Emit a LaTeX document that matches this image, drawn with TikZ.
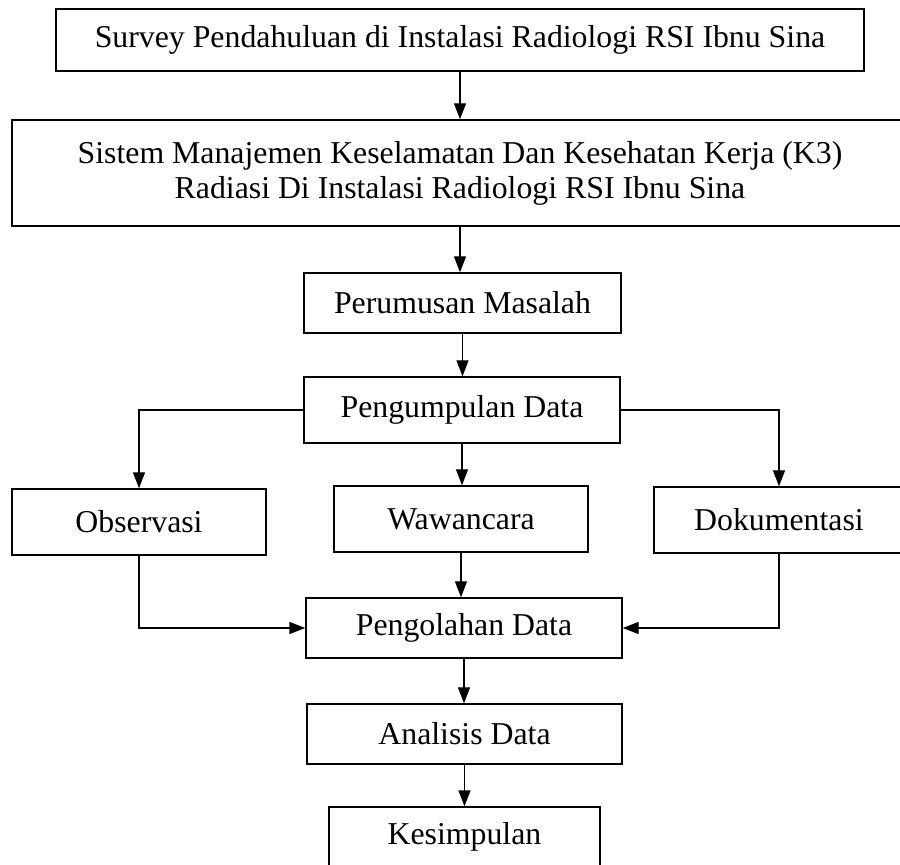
\documentclass[tikz,border=0pt]{standalone}
\usepackage{fontspec}
\setmainfont{Liberation Serif}
\usetikzlibrary{arrows.meta}

\begin{document}
\begin{tikzpicture}[
  x=0.5pt, y=-0.5pt,
  font=\fontsize{15.9}{17.5}\selectfont,
  line width=0.7pt,
  stepbox/.style={
    draw=black,
    fill=white,
    align=center,
    inner sep=0pt,
    minimum height=30pt,
  },
  flow/.style={-{Triangle[length=8pt,width=6pt]}},
]
  \useasboundingbox (0,0) rectangle (900,865);

  % === main column ===
  \node[stepbox, minimum width=404pt, minimum height=31pt] (survey) at (460, 40)
    {Survey Pendahuluan di Instalasi Radiologi RSI Ibnu Sina};
  \node[stepbox, minimum width=448pt, minimum height=53pt] (sistem) at (460, 173)
    {Sistem Manajemen Keselamatan Dan Kesehatan Kerja (K3)\\ Radiasi Di Instalasi Radiologi RSI Ibnu Sina};
  \node[stepbox, minimum width=158.5pt] (rumusan) at (462.5, 303) {Perumusan Masalah};
  \node[stepbox, minimum width=158pt, minimum height=33pt] (kumpul) at (462, 410) {Pengumpulan Data};

  % === three collection methods ===
  \node[stepbox, minimum width=127pt, minimum height=33pt] (obs) at (139, 522) {Observasi};
  \node[stepbox, minimum width=127pt, minimum height=33pt] (wawan) at (461, 519) {Wawancara};
  \node[stepbox, minimum width=125pt, minimum height=33pt] (dok) at (779, 520) {Dokumentasi};

  % === processing and result ===
  \node[stepbox, minimum width=158pt] (olah) at (464, 628) {Pengolahan Data};
  \node[stepbox, minimum width=157.5pt] (analisis) at (464.5, 734) {Analisis Data};
  \node[stepbox, minimum width=135.5pt] (simpul) at (464.5, 837) {Kesimpulan};

  % Arrows down the middle
  \draw[flow] (survey.south) -- (survey.south |- sistem.north);
  \draw[flow] (sistem.south) -- (sistem.south |- rumusan.north);
  \draw[flow] (rumusan.south) -- (rumusan.south |- kumpul.north);
  \draw[flow] (kumpul.south) -- (kumpul.south |- wawan.north);
  \draw[flow] (wawan.south) -- (wawan.south |- olah.north);
  \draw[flow] (olah.south) -- (olah.south |- analisis.north);
  \draw[flow] (analisis.south) -- (analisis.south |- simpul.north);

  % Branches out of Pengumpulan Data
  \draw[flow] (kumpul.west) -| (obs.north);
  \draw[flow] (kumpul.east) -| (dok.north);

  % Back into Pengolahan Data
  \draw[flow] (obs.south) |- (olah.west);
  \draw[flow] (dok.south) |- (olah.east);

\end{tikzpicture}
\end{document}
